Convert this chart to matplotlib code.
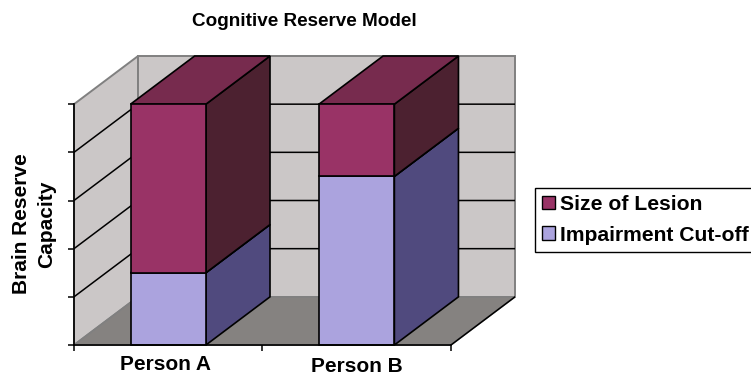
import matplotlib
matplotlib.use("Agg")
import matplotlib.pyplot as plt
from matplotlib.patches import Polygon, Patch

plt.rcParams['font.family'] = ['Liberation Sans', 'DejaVu Sans']
plt.rcParams['font.weight'] = 'bold'

categories = ["Person A", "Person B"]
impairment = [1.5, 3.5]
lesion = [3.5, 1.5]
y_ticks = [0, 1, 2, 3, 4, 5]

# fake 3d depth, in data units
dx = 0.34
dy = 1.0
bar_w = 0.4

wall = '#CBC7C7'
floor = '#858280'
wall_edge = '#808080'
cols = {'cut': ('#ABA3DE', '#504A7E', '#504A7E'),
        'les': ('#993366', '#4C2130', '#772B4E')}

fig = plt.figure(figsize=(7.51, 3.75), dpi=100)
ax = fig.add_axes([74 / 751, 1 - 345 / 375, (515 - 74) / 751, (345 - 56) / 375])
ax.set_xlim(0, 2 + dx)
ax.set_ylim(0, 5 + dy)


def poly(pts, fc, ec='black', lw=1.2, z=2):
    ax.add_patch(Polygon(pts, closed=True, facecolor=fc, edgecolor=ec, linewidth=lw,
                         zorder=z, joinstyle='miter', clip_on=False))


# walls and floor
poly([(0, 5), (dx, 5 + dy), (dx, dy), (0, 0)], wall, wall_edge, 1.4, 1)
poly([(dx, dy), (dx, 5 + dy), (2 + dx, 5 + dy), (2 + dx, dy)], wall, wall_edge, 1.4, 1)
poly([(0, 0), (dx, dy), (2 + dx, dy), (2, 0)], floor, wall_edge, 1.2, 1)
ax.plot([2, 2 + dx], [0, dy], color='black', lw=1.1, zorder=1.5)

# gridlines
for t in y_ticks[1:-1]:
    ax.plot([0, dx, 2 + dx], [t, t + dy, t + dy], color='black', lw=1.1, zorder=1.5)

# stacked bars
for i in range(len(categories)):
    x0 = i + 0.5 - bar_w / 2
    x1 = x0 + bar_w
    for key, b, h in (('cut', 0, impairment[i]), ('les', impairment[i], lesion[i])):
        front, side, top = cols[key]
        t = b + h
        poly([(x1, b), (x1 + dx, b + dy), (x1 + dx, t + dy), (x1, t)], side, z=3)
        poly([(x0, t), (x0 + dx, t + dy), (x1 + dx, t + dy), (x1, t)], top, z=3)
        poly([(x0, b), (x1, b), (x1, t), (x0, t)], front, z=3)

# axes
for s in ['top', 'right']:
    ax.spines[s].set_visible(False)
ax.patch.set_visible(False)
ax.spines['left'].set_bounds(0, 5)
ax.spines['bottom'].set_bounds(0, 2)
ax.spines['left'].set_linewidth(1.2)
ax.spines['bottom'].set_linewidth(1.2)
ax.spines['left'].set_zorder(5)
ax.spines['bottom'].set_zorder(5)
ax.set_yticks(y_ticks)
ax.set_yticklabels([])
ax.set_xticks([0, 1, 2])
ax.set_xticklabels([])
ax.tick_params(length=4, width=1.1)

# Person B sits a bit lower in the original
ax.text(0.486, -0.41, categories[0], ha='center', va='center', fontsize=15)
ax.text(1.5, -0.45, categories[1], ha='center', va='center', fontsize=15)

fig.text(304 / 751, 1 - 21 / 375, "Cognitive Reserve Model", ha='center', va='center', fontsize=13.6)
fig.text(34 / 751, 1 - 224 / 375, "Brain Reserve\nCapacity", rotation=90, ha='center', va='center',
         ma='center', fontsize=15, linespacing=1.45)

handles = [Patch(facecolor=cols['les'][0], edgecolor='black', linewidth=1),
           Patch(facecolor=cols['cut'][0], edgecolor='black', linewidth=1)]
fig.legend(handles, ["Size of Lesion", "Impairment Cut-off"], loc='upper left',
           bbox_to_anchor=(535 / 751, 1 - 188 / 375), borderaxespad=0, fancybox=False,
           framealpha=1, edgecolor='black', fontsize=15.2, handlelength=0.6, handleheight=0.6,
           handletextpad=0.25, labelspacing=0.55, borderpad=0.33)

fig.savefig("out.png", dpi=100)
